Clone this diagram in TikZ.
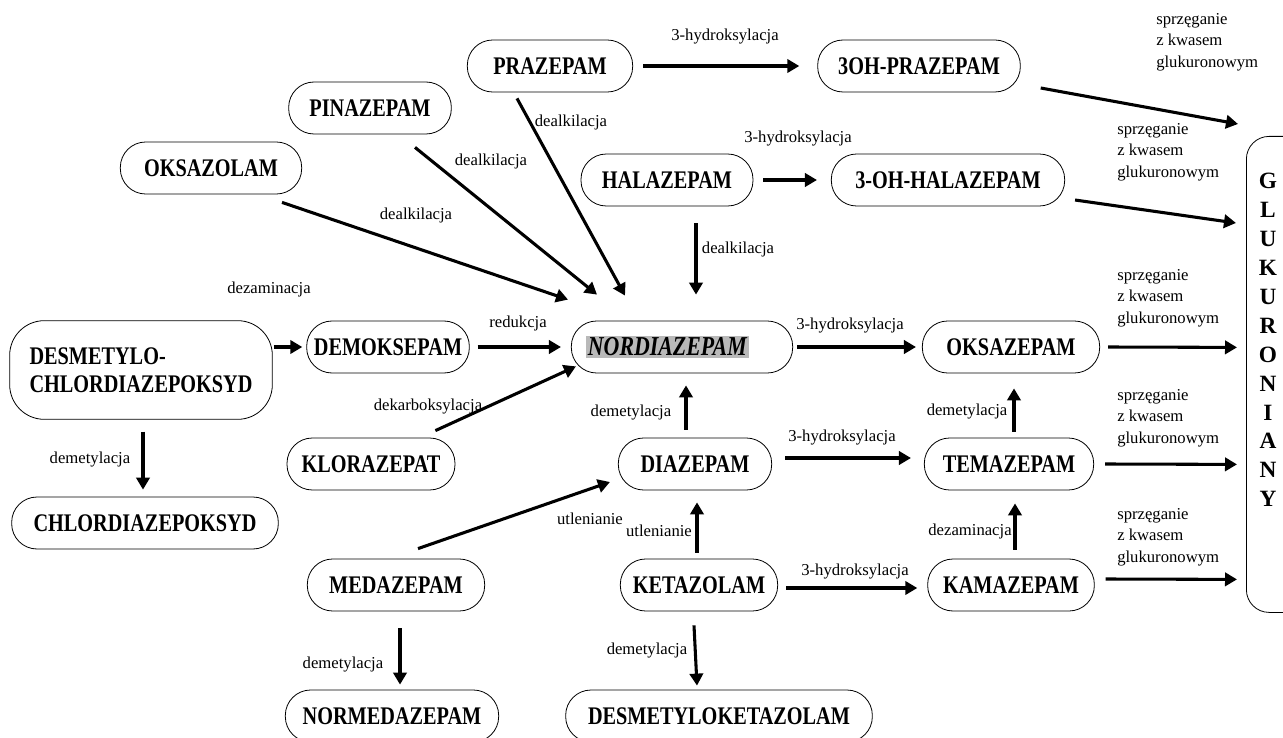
\documentclass[tikz,border=0pt]{standalone}
\usepackage{fontspec}
\setmainfont{Liberation Serif}
\newfontfamily\drugfont[FakeStretch=0.8]{Liberation Serif}
\usetikzlibrary{arrows.meta, positioning, calc}

\tikzset{
  drug/.style={draw, line width=0.6pt, rounded corners=19pt, minimum height=39pt,
    inner sep=2pt, font=\drugfont\bfseries\fontsize{19}{21}\selectfont},
  lbl/.style={font=\fontsize{12.5}{16}\selectfont, inner sep=0pt},
  glab/.style={lbl, align=left, anchor=west},
  arr/.style={line width=2.3pt, -{Triangle[length=9pt,width=10pt]}}
}

\begin{document}
\begin{tikzpicture}[x=0.75pt, y=-0.75pt]
  \useasboundingbox (0,0) rectangle (1283,738);

  % substancje
  \node[drug, minimum width=124pt] (praz) at (550,66) {PRAZEPAM};
  \node[drug, minimum width=152pt] (ohpraz) at (919,66) {3OH-PRAZEPAM};
  \node[drug, minimum width=122pt] (pinaz) at (370,108) {PINAZEPAM};
  \node[drug, minimum width=136pt] (oksazol) at (211,168) {OKSAZOLAM};
  \node[drug, minimum width=129pt] (halaz) at (667,180) {HALAZEPAM};
  \node[drug, minimum width=175pt] (ohhalaz) at (948,180) {3-OH-HALAZEPAM};
  \node[drug, minimum width=197pt, minimum height=74pt, rounded corners=26pt,
        align=left] (desmchl) at (141,370) {DESMETYLO-\\CHLORDIAZEPOKSYD};
  \node[drug, minimum width=122pt] (demoks) at (388,347) {DEMOKSEPAM};
  \node[drug, minimum width=166pt] (nordiaz) at (682,347)
        {{\fboxsep=1.5pt\colorbox{gray!55}{\itshape\fontsize{20.5}{22}\selectfont NORDIAZEPAM}}\hspace{22pt}\mbox{}};
  \node[drug, minimum width=133pt] (oksazep) at (1011,347) {OKSAZEPAM};
  \node[drug, minimum width=126pt] (kloraz) at (371,464) {KLORAZEPAT};
  \node[drug, minimum width=115pt] (diaz) at (695,464) {DIAZEPAM};
  \node[drug, minimum width=127pt] (temaz) at (1009,464) {TEMAZEPAM};
  \node[drug, minimum width=200pt] (chlordiaz) at (145,523) {CHLORDIAZEPOKSYD};
  \node[drug, minimum width=133pt] (medaz) at (396,585) {MEDAZEPAM};
  \node[drug, minimum width=118pt] (ketaz) at (699,585) {KETAZOLAM};
  \node[drug, minimum width=125pt] (kamaz) at (1011,585) {KAMAZEPAM};
  \node[drug, minimum width=160pt] (normedaz) at (392,716) {NORMEDAZEPAM};
  \node[drug, minimum width=230pt] (desmket) at (719,716) {DESMETYLOKETAZOLAM};
  \node[draw, line width=0.6pt, minimum width=60pt, minimum height=357pt,
        rounded corners=17pt, anchor=north west] (gluk) at (1246,136) {};
  \node[align=center, inner sep=0pt, font=\bfseries\fontsize{17.5}{21.7}\selectfont]
        (glukt) at (1268,340) {G\\L\\U\\K\\U\\R\\O\\N\\I\\A\\N\\Y};

  % przemiany
  \draw[arr] ($(praz.east)+(10,0)$) -- ($(ohpraz.west)+(-18,0)$);
  \draw[arr] ($(ohpraz.east)+(20,22)$) -- ($(gluk.north west)+(-8,-12)$);
  \draw[arr] ($(ohhalaz.east)+(10,20)$) -- ($(gluk.north west)+(-10,87)$);
  \draw[arr] ($(oksazep.east)+(8,0)$) -- ($(gluk.west)+(-9,-27)$);
  \draw[arr] ($(temaz.east)+(11,0)$) -- ($(gluk.west)+(-9,90)$);
  \draw[arr] ($(kamaz.east)+(11,-6)$) -- ($(gluk.west)+(-9,205)$);
  \draw[arr] ($(halaz.east)+(10,0)$) -- ($(ohhalaz.west)+(-14,0)$);
  \draw[arr] ($(praz.south)+(-33,6)$) -- ($(nordiaz.north)+(-57,-25)$);
  \draw[arr] ($(pinaz.south)+(45,13)$) -- ($(nordiaz.north)+(-85,-26)$);
  \draw[arr] ($(oksazol.south)+(71,8)$) -- ($(nordiaz.north)+(-114,-21)$);
  \draw[arr] ($(halaz.south)+(29,17)$) -- ($(nordiaz.north)+(14,-26)$);
  \draw[arr] ($(desmchl.east)+(1,-23)$) -- ($(demoks.west)+(-4,0)$);
  \draw[arr] ($(demoks.east)+(8,0)$) -- ($(nordiaz.west)+(-10,0)$);
  \draw[arr] ($(kloraz.north east)+(-20,-7)$) -- ($(nordiaz.south west)+(5,-7)$);
  \draw[arr] ($(diaz.north)+(-9,-8)$) -- ($(nordiaz.south)+(4,12)$);
  \draw[arr] ($(nordiaz.east)+(4,0)$) -- ($(oksazep.west)+(-6,0)$);
  \draw[arr] ($(temaz.north)+(5,-6)$) -- ($(oksazep.south)+(3,15)$);
  \draw[arr] ($(diaz.east)+(13,-6)$) -- ($(temaz.west)+(-13,-6)$);
  \draw[arr] ($(kamaz.north)+(4,-9)$) -- ($(temaz.south)+(6,13)$);
  \draw[arr] ($(ketaz.east)+(8,3)$) -- ($(kamaz.west)+(-10,3)$);
  \draw[arr] ($(ketaz.north)+(-2,-6)$) -- ($(diaz.south)+(2,12)$);
  \draw[arr] ($(medaz.north)+(22,-10)$) -- ($(diaz.west)+(-8,18)$);
  \draw[arr] ($(desmchl.south)+(2,12)$) -- ($(chlordiaz.north)+(-2,-7)$);
  \draw[arr] ($(medaz.south)+(4,17)$) -- ($(normedaz.north)+(8,-5)$);
  \draw[arr] ($(ketaz.south)+(-5,14)$) -- ($(desmket.north)+(-22,-4)$);

  % opisy
  \node[lbl] (l1) at (725,37) {3-hydroksylacja};
  \node[glab] (g1) at (1156,42) {sprzęganie\\z kwasem\\glukuronowym};
  \node[glab] (g2) at (1117,152) {sprzęganie\\z kwasem\\glukuronowym};
  \node[glab] (g3) at (1117,298) {sprzęganie\\z kwasem\\glukuronowym};
  \node[glab] (g4) at (1117,418) {sprzęganie\\z kwasem\\glukuronowym};
  \node[glab] (g5) at (1117,537) {sprzęganie\\z kwasem\\glukuronowym};
  \node[lbl] (l2) at (798,139) {3-hydroksylacja};
  \node[lbl] (l3) at (571,122) {dealkilacja};
  \node[lbl] (l4) at (491,161) {dealkilacja};
  \node[lbl] (l5) at (416,215) {dealkilacja};
  \node[lbl] (l6) at (738,249) {dealkilacja};
  \node[lbl] (l7) at (269,289) {dezaminacja};
  \node[lbl] (l8) at (518,323) {redukcja};
  \node[lbl] (l9) at (428,407) {dekarboksylacja};
  \node[lbl] (l10) at (631,413) {demetylacja};
  \node[lbl] (l11) at (850,326) {3-hydroksylacja};
  \node[lbl] (l12) at (967,412) {demetylacja};
  \node[lbl] (l13) at (842,438) {3-hydroksylacja};
  \node[lbl] (l14) at (970,531) {dezaminacja};
  \node[lbl] (l15) at (855,572) {3-hydroksylacja};
  \node[lbl] (l16) at (659,531) {utlenianie};
  \node[lbl] (l17) at (590,519) {utlenianie};
  \node[lbl] (l18) at (90,460) {demetylacja};
  \node[lbl] (l19) at (343,665) {demetylacja};
  \node[lbl] (l20) at (647,651) {demetylacja};
\end{tikzpicture}
\end{document}
